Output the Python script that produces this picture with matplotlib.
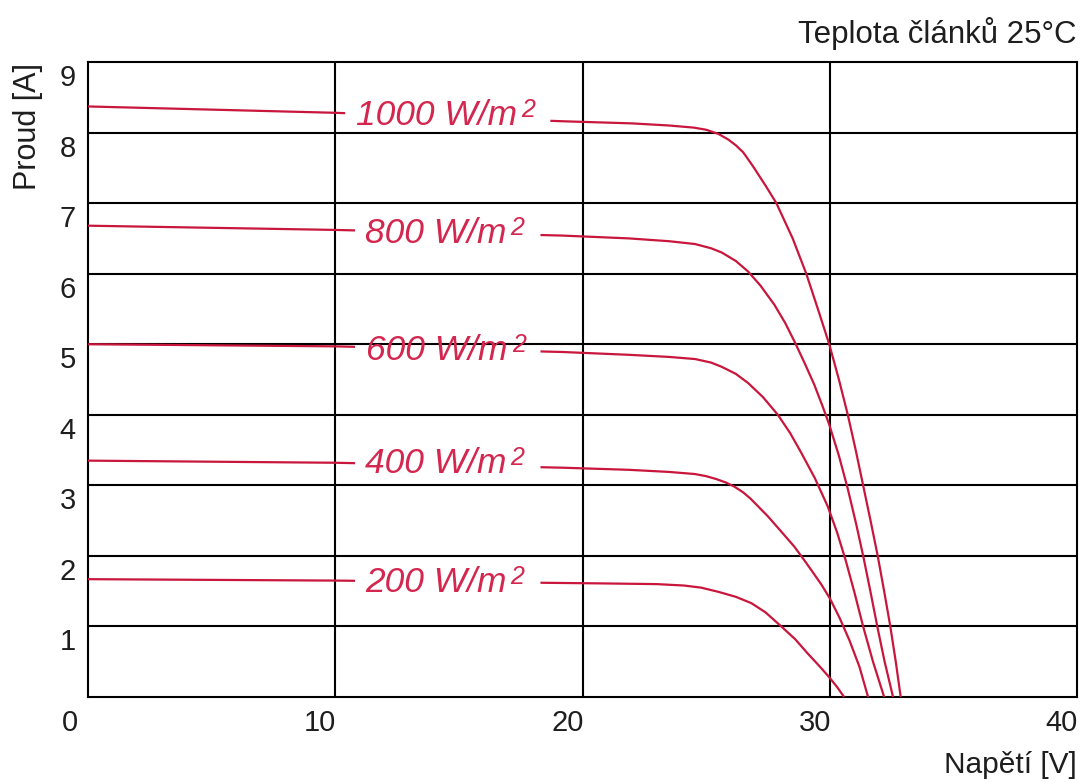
import numpy as np
import matplotlib
matplotlib.use("Agg")
import matplotlib.pyplot as plt
from matplotlib.transforms import ScaledTranslation

plt.rcParams['font.family'] = ['Liberation Sans', 'DejaVu Sans']

# ---------------- data ----------------
irradiance_labels = ["1000 W/m", "800 W/m", "600 W/m", "400 W/m", "200 W/m"]
unit_exponent = "2"

v_1000 = [0, 10, 19.2, 22.0, 23.5, 24.5, 25.0, 25.5, 25.9, 26.2, 26.5, 26.9, 27.4, 27.84, 28.5, 29.05,
          29.52, 29.98, 30.37, 30.73, 31.05, 31.35, 31.65, 31.94, 32.2, 32.45, 32.67, 32.87]
i_1000 = [8.37, 8.28, 8.16, 8.13, 8.10, 8.07, 8.04, 7.98, 7.90, 7.82, 7.72, 7.52, 7.25, 7.0, 6.5, 6.0,
          5.5, 5.0, 4.5, 4.0, 3.5, 3.0, 2.5, 2.0, 1.5, 1.0, 0.5, 0.0]

v_800 = [0, 10, 19.18, 21.87, 23.5, 24.55, 25.2, 25.63, 26.2, 26.7, 27.2, 27.76, 28.2, 28.6, 29.0, 29.37,
         29.7, 29.98, 30.37, 30.73, 31.07, 31.37, 31.66, 31.94, 32.22, 32.56]
i_800 = [6.68, 6.62, 6.54, 6.50, 6.46, 6.42, 6.36, 6.30, 6.18, 6.03, 5.83, 5.56, 5.30, 5.02, 4.72, 4.43,
         4.13, 3.86, 3.42, 2.95, 2.45, 1.97, 1.47, 0.97, 0.50, 0.0]

v_600 = [0, 10, 19.18, 21.87, 23.5, 24.55, 25.2, 25.63, 26.2, 26.7, 27.3, 27.9, 28.4, 28.85, 29.4, 29.92,
         30.3, 30.65, 31.0, 31.35, 31.75, 32.2]
i_600 = [5.0, 4.97, 4.89, 4.85, 4.82, 4.79, 4.74, 4.68, 4.58, 4.45, 4.25, 4.0, 3.74, 3.46, 3.10, 2.70,
         2.33, 1.93, 1.48, 1.0, 0.5, 0.0]

v_400 = [0, 10, 19.18, 21.87, 23.5, 24.55, 25.0, 25.4, 25.8, 26.15, 26.5, 26.8, 27.5, 28.0, 28.57, 29.05,
         29.65, 30.0, 30.4, 30.8, 31.2, 31.55]
i_400 = [3.35, 3.32, 3.25, 3.22, 3.19, 3.16, 3.13, 3.09, 3.04, 2.98, 2.90, 2.81, 2.56, 2.36, 2.13, 1.90,
         1.60, 1.40, 1.12, 0.80, 0.43, 0.0]

v_200 = [0, 10, 20.79, 23.0, 24.1, 24.8, 25.5, 26.2, 26.83, 27.4, 28.04, 28.6, 29.1, 29.55, 29.98, 30.3,
         30.58]
i_200 = [1.67, 1.65, 1.61, 1.60, 1.58, 1.55, 1.49, 1.42, 1.33, 1.20, 1.0, 0.82, 0.62, 0.45, 0.28, 0.14,
         0.0]

x_ticks = [0, 10, 20, 30, 40]
x_tick_labels = ["0", "10", "20", "30", "40"]
y_ticks = [1, 2, 3, 4, 5, 6, 7, 8, 9]
y_tick_labels = ["1", "2", "3", "4", "5", "6", "7", "8", "9"]

title_text = "Teplota článků 25°C"
x_label = "Napětí [V]"
y_label = "Proud [A]"

# ---------------- layout / style ----------------
W, H = 1084, 783
DPI = 100
curve_color = '#c8163c'
label_color = '#d4274f'
text_color = '#1e1e1e'

series = [(v_1000, i_1000), (v_800, i_800), (v_600, i_600), (v_400, i_400), (v_200, i_200)]
# gaps (in V) where the curve is interrupted by its label, and label anchor (V, baseline A)
gaps = [(10.4, 18.7), (10.8, 18.3), (10.8, 18.3), (10.8, 18.3), (10.8, 18.3)]
label_pos = [(10.85, 8.11), (11.2, 6.44), (11.25, 4.78), (11.2, 3.18), (11.2, 1.49)]

fig = plt.figure(figsize=(W / DPI, H / DPI), dpi=DPI)
left_px, right_px, top_px, bottom_px = 88, 1077, 62, 697
ax = fig.add_axes([left_px / W, (H - bottom_px) / H, (right_px - left_px) / W, (bottom_px - top_px) / H])
ax.set_xlim(0, 40)
ax.set_ylim(0, 9)

# grid
for xv in x_ticks[1:-1]:
    ax.axvline(xv, color='black', lw=1.5, zorder=1)
for yv in y_ticks[:-1]:
    ax.axhline(yv, color='black', lw=1.5, zorder=1)
for sp in ax.spines.values():
    sp.set_linewidth(1.5)
    sp.set_color('black')
ax.set_xticks([])
ax.set_yticks([])

# curves with gaps for labels
for (v, i), (g0, g1) in zip(series, gaps):
    v = np.asarray(v, float)
    i = np.asarray(i, float)
    i_g0 = np.interp(g0, v, i)
    i_g1 = np.interp(g1, v, i)
    mL = v < g0
    mR = v > g1
    ax.plot(np.r_[v[mL], g0], np.r_[i[mL], i_g0], color=curve_color, lw=1.6, zorder=3, clip_on=False,
            solid_capstyle='butt', solid_joinstyle='round')
    ax.plot(np.r_[g1, v[mR]], np.r_[i_g1, i[mR]], color=curve_color, lw=1.6, zorder=3, clip_on=False,
            solid_capstyle='butt', solid_joinstyle='round')

for txt, (lx, ly) in zip(irradiance_labels, label_pos):
    t = ax.text(lx, ly, txt, color=label_color, fontsize=25.5, fontstyle='italic',
                ha='left', va='baseline', zorder=4)
    ax.annotate(unit_exponent, xy=(1, 1), xycoords=t, xytext=(4, 1), textcoords='offset pixels',
                color=label_color, fontsize=18, fontstyle='italic', ha='left', va='top', zorder=4)

# tick labels
px = 1.0 / DPI
for yv, lab in zip(y_ticks, y_tick_labels):
    tr = ax.get_yaxis_transform() + ScaledTranslation(-12 * px, -16 * px, fig.dpi_scale_trans)
    ax.text(0, yv, lab, transform=tr, ha='right', va='center', fontsize=21, color=text_color)
for xv, lab in zip(x_ticks, x_tick_labels):
    dx = -10 if xv == 0 else 1
    tr = ax.get_xaxis_transform() + ScaledTranslation(dx * px, -26 * px, fig.dpi_scale_trans)
    ax.text(xv, 0, lab, transform=tr, ha='right', va='center', fontsize=21, color=text_color)

# axis titles
fig.text(1076 / W, 1 - 33 / H, title_text, ha='right', va='center', fontsize=22.5, color=text_color)
fig.text(1077 / W, 1 - 765 / H, x_label, ha='right', va='center', fontsize=21.5, color=text_color)
fig.text(28 / W, 1 - 127 / H, y_label, ha='center', va='center', rotation=90, fontsize=22, color=text_color)

fig.savefig("out.png", dpi=DPI)
